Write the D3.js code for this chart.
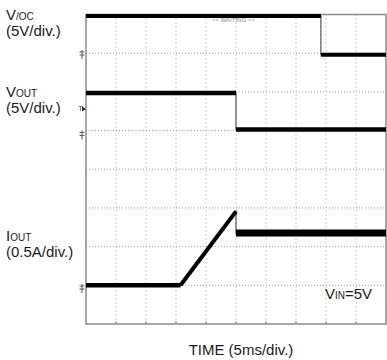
<!DOCTYPE html>
<html>
<head>
<meta charset="utf-8">
<script src="https://cdn.jsdelivr.net/npm/d3@7"></script>
<style>
  html, body { margin: 0; padding: 0; background: #fff; }
  svg { display: block; font-family: "Liberation Sans", Arial, sans-serif; }
</style>
</head>
<body>
<svg id="chart" width="387" height="360"></svg>
<script>
// ---- data (time in divisions of 5 ms, level in screen divisions) ----
const vocTime   = [0, 7.83, 7.83, 10];
const vocLevel  = [7.96, 7.96, 6.96, 6.96];

const voutTime  = [0, 5.0, 5.0, 10];
const voutLevel = [5.97, 5.97, 5.03, 5.03];

const ioutTime  = [0, 3.15, 5.0, 5.0, 10];
const ioutLevel = [1.0, 1.0, 2.91, 2.35, 2.35];

const xGrid = [1, 2, 3, 4, 5, 6, 7, 8, 9];
const yGrid = [1, 2, 3, 4, 5, 6, 7];

const groundMarks = [6.98, 4.9, 0.93];

// ---- layout ----
const svg = d3.select("#chart");
const x = d3.scaleLinear().domain([0, 10]).range([86, 386]);
const y = d3.scaleLinear().domain([0, 8]).range([324, 14.5]);

// grid
svg.append("g").selectAll("line").data(xGrid).join("line")
  .attr("x1", d => x(d)).attr("x2", d => x(d))
  .attr("y1", y(8)).attr("y2", y(0))
  .attr("stroke", "#9a9a9a").attr("stroke-width", 1)
  .attr("stroke-dasharray", "1,3");
svg.append("g").selectAll("line").data(yGrid).join("line")
  .attr("x1", x(0)).attr("x2", x(10))
  .attr("y1", d => y(d)).attr("y2", d => y(d))
  .attr("stroke", "#9a9a9a").attr("stroke-width", 1)
  .attr("stroke-dasharray", "1,2");

// bottom ticks
svg.append("g").selectAll("line").data(xGrid).join("line")
  .attr("x1", d => x(d)).attr("x2", d => x(d))
  .attr("y1", y(0) - 3).attr("y2", y(0))
  .attr("stroke", "#888").attr("stroke-width", 1);

// frame
svg.append("rect")
  .attr("x", x(0)).attr("y", y(8))
  .attr("width", x(10) - x(0)).attr("height", y(0) - y(8))
  .attr("fill", "none").attr("stroke", "#8a8a8a").attr("stroke-width", 1.5);

// traces: thin vertical transitions, thick sampled segments
const line = d3.line().x(d => x(d[0])).y(d => y(d[1]));
function trace(t, v, w) {
  const pts = t.map((d, i) => [d, v[i]]);
  svg.append("path").datum(pts).attr("d", line)
    .attr("fill", "none").attr("stroke", "#555").attr("stroke-width", 1.2);
  for (let i = 0; i < pts.length - 1; i++) {
    if (pts[i][0] === pts[i + 1][0]) continue;
    const flat = pts[i][1] === pts[i + 1][1];
    svg.append("path").datum([pts[i], pts[i + 1]]).attr("d", line)
      .attr("fill", "none").attr("stroke", "#000")
      .attr("stroke-width", flat ? w : 4)
      .attr("stroke-linecap", "butt");
  }
}
trace(vocTime, vocLevel, 4);
trace(voutTime, voutLevel, 4.5);
trace(ioutTime, ioutLevel, 4.5);
// wider noisy band on iout plateau
svg.append("path")
  .datum(ioutTime.slice(3).map((d, i) => [d, ioutLevel[3 + i]]))
  .attr("d", line).attr("fill", "none").attr("stroke", "#000").attr("stroke-width", 7);

// ground markers
const gm = svg.append("g").attr("stroke", "#555").attr("stroke-width", 1).attr("fill", "none");
groundMarks.forEach(g => {
  const yy = y(g), xx = x(0) - 4;
  gm.append("line").attr("x1", xx - 2.5).attr("x2", xx + 2.5).attr("y1", yy - 2).attr("y2", yy - 2);
  gm.append("line").attr("x1", xx - 2.5).attr("x2", xx + 2.5).attr("y1", yy + 1).attr("y2", yy + 1);
  gm.append("line").attr("x1", xx).attr("x2", xx).attr("y1", yy - 4).attr("y2", yy + 5);
});
// trigger marker
svg.append("text").attr("x", x(0) - 8).attr("y", y(5.6) + 4)
  .attr("font-size", 8).attr("fill", "#444").text("T");
svg.append("path")
  .attr("d", d3.line()([[x(0) - 4, y(5.6) - 1], [x(0), y(5.6) + 2], [x(0) - 4, y(5.6) + 4]]))
  .attr("fill", "#222");

// small status text
svg.append("text").attr("x", 212).attr("y", 22)
  .attr("font-size", 6).attr("fill", "#888").text("<< WAITING >>");

// labels
const txt = "#1a1a1a";
function label(xp, yp, parts) {
  const t = svg.append("text").attr("x", xp).attr("y", yp).attr("fill", txt);
  parts.forEach(p => t.append("tspan").attr("font-size", p[1]).text(p[0]));
}
label(6, 20, [["V", 15], ["/OC", 10]]);
label(6, 36, [["(5V/div.)", 15]]);
label(6, 97, [["V", 15], ["OUT", 10]]);
label(6, 113, [["(5V/div.)", 15]]);
label(6, 241, [["I", 15], ["OUT", 10]]);
label(6, 257, [["(0.5A/div.)", 15]]);
label(325, 299, [["V", 15], ["IN", 10], ["=5V", 15]]);
svg.append("text").attr("x", 241).attr("y", 355).attr("text-anchor", "middle")
  .attr("font-size", 15).attr("fill", txt).text("TIME (5ms/div.)");
</script>
</body>
</html>
